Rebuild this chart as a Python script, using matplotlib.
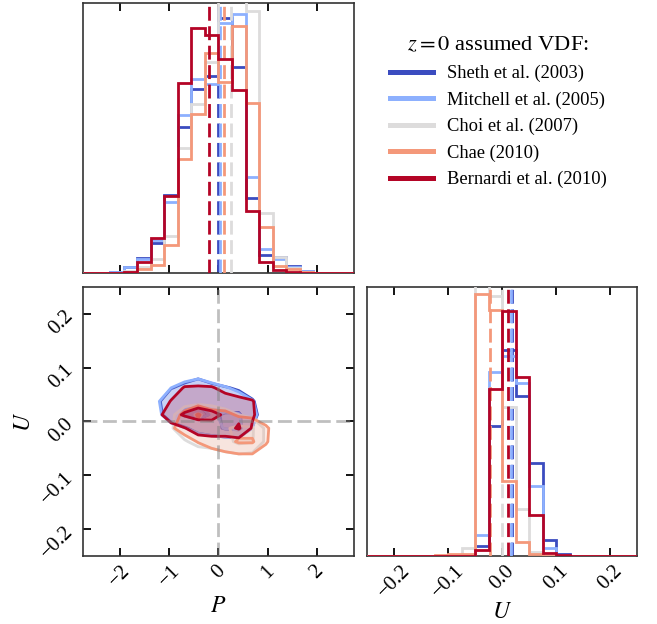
import numpy as np
import matplotlib
matplotlib.use("Agg")
import matplotlib.pyplot as plt
from matplotlib.lines import Line2D

plt.rcParams['font.family'] = ['Liberation Serif', 'DejaVu Serif']
plt.rcParams['mathtext.fontset'] = 'stix'
plt.rcParams['axes.unicode_minus'] = True

# --- data ---------------------------------------------------------------
names = ['Sheth et al. (2003)', 'Mitchell et al. (2005)', 'Choi et al. (2007)',
         'Chae (2010)', 'Bernardi et al. (2010)']

p_range = (-2.75, 2.75)
u_range = (-0.25, 0.25)
nbins = 20

# 1D histograms of P (20 bins over p_range)
hist_p = {
    'Sheth et al. (2003)':    [0, 0, 1, 6, 15, 30, 78, 146, 184, 197, 255, 206, 75, 18, 16, 7, 2, 0, 0, 0],
    'Mitchell et al. (2005)': [0, 0, 1, 6, 14, 33, 71, 158, 194, 189, 250, 259, 96, 24, 14, 6, 2, 0, 0, 0],
    'Choi et al. (2007)':     [0, 0, 0, 2, 6, 14, 37, 125, 169, 211, 280, 300, 262, 60, 16, 5, 1, 0, 0, 0],
    'Chae (2010)':            [0, 0, 0, 1, 4, 8, 28, 114, 159, 220, 191, 247, 170, 46, 7, 4, 1, 0, 0, 0],
    'Bernardi et al. (2010)': [0, 0, 0.3, 1.3, 11, 35, 77, 190, 245, 238, 214, 183, 62, 11, 3, 0.5, 0, 0, 0, 0],
}
# 1D histograms of U (20 bins over u_range)
hist_u = {
    'Sheth et al. (2003)':    [0, 0, 0, 0, 0, 0, 0, 0, 10, 130, 206, 160, 93, 16, 2, 0, 0, 0, 0, 0],
    'Mitchell et al. (2005)': [0, 0, 0, 0, 0, 0, 0, 0, 21, 184, 200, 173, 70, 8, 1, 0, 0, 0, 0, 0],
    'Choi et al. (2007)':     [0, 0, 0, 0, 0, 0, 0, 8, 275, 260, 149, 47, 4, 0, 0, 0, 0, 0, 0, 0],
    'Chae (2010)':            [0, 0, 0, 0, 0, 1, 2, 2, 262, 246, 75, 14, 2, 0, 0, 0, 0, 0, 0, 0],
    'Bernardi et al. (2010)': [0, 0, 0, 0, 0, 0, 0, 0, 6, 167, 245, 179, 41, 3, 1, 0, 0, 0, 0, 0],
}
p_median = [0.0, 0.04, 0.26, 0.11, -0.2]
u_median = [0.019, 0.016, 0.0, -0.022, 0.012]

# 2D density (normalised) on the central part of the 20x20 grid:
# rows = U bins 7..13 (bottom to top), cols = P bins 5..14
dens_2d = {
    'Sheth et al. (2003)': [
        [0, 0, 0, 0, 0, 0, 0, 0, 0, 0],
        [0, 0, 0.05, 0.05, 0.05, 0.05, 0.05, 0.02, 0, 0],
        [0, 0.1, 0.25, 0.45, 0.6, 0.8, 0.85, 0.28, 0.02, 0],
        [0.15, 0.55, 0.8, 0.9, 0.7, 0.78, 0.8, 0.45, 0.05, 0],
        [0.22, 0.6, 0.65, 0.7, 0.6, 0.55, 0.5, 0.35, 0, 0],
        [0, 0.28, 0.4, 0.5, 0.4, 0.33, 0.25, 0.05, 0, 0],
        [0, 0, 0.12, 0.2, 0.1, 0, 0, 0, 0, 0]],
    'Mitchell et al. (2005)': [
        [0, 0, 0, 0, 0, 0, 0, 0, 0, 0],
        [0, 0, 0.05, 0.05, 0.05, 0.05, 0.08, 0.03, 0, 0],
        [0, 0.12, 0.28, 0.45, 0.6, 0.78, 0.85, 0.3, 0.02, 0],
        [0.18, 0.58, 0.8, 0.88, 0.72, 0.8, 0.78, 0.42, 0.05, 0],
        [0.25, 0.62, 0.68, 0.7, 0.6, 0.55, 0.48, 0.33, 0, 0],
        [0.02, 0.3, 0.42, 0.5, 0.42, 0.33, 0.22, 0.03, 0, 0],
        [0, 0, 0.15, 0.2, 0.1, 0, 0, 0, 0, 0]],
    'Choi et al. (2007)': [
        [0, 0, 0, 0.05, 0.15, 0.2, 0.25, 0.2, 0.05, 0],
        [0, 0.05, 0.25, 0.45, 0.45, 0.6, 0.85, 0.78, 0.2, 0],
        [0, 0.25, 0.6, 0.65, 0.65, 0.7, 0.85, 0.8, 0.2, 0],
        [0, 0.2, 0.6, 0.8, 0.6, 0.45, 0.3, 0.15, 0, 0],
        [0, 0.02, 0.1, 0.15, 0.15, 0.1, 0.05, 0, 0, 0],
        [0, 0, 0, 0, 0, 0, 0, 0, 0, 0],
        [0, 0, 0, 0, 0, 0, 0, 0, 0, 0]],
    'Chae (2010)': [
        [0, 0, 0, 0.05, 0.1, 0.2, 0.25, 0.25, 0.1, 0],
        [0, 0, 0.15, 0.32, 0.5, 0.6, 0.8, 0.8, 0.35, 0],
        [0, 0.25, 0.45, 0.6, 0.6, 0.6, 0.6, 0.6, 0.38, 0],
        [0, 0.1, 0.4, 0.8, 0.45, 0.4, 0.25, 0.2, 0, 0],
        [0, 0, 0.05, 0.05, 0.05, 0.05, 0, 0, 0, 0],
        [0, 0, 0, 0, 0, 0, 0, 0, 0, 0],
        [0, 0, 0, 0, 0, 0, 0, 0, 0, 0]],
    'Bernardi et al. (2010)': [
        [0, 0, 0, 0, 0, 0, 0, 0, 0, 0],
        [0, 0, 0.05, 0.1, 0.1, 0.1, 0.1, 0.05, 0, 0],
        [0, 0.1, 0.28, 0.5, 0.6, 0.6, 0.8, 0.25, 0.02, 0],
        [0.15, 0.6, 0.8, 0.9, 0.85, 0.7, 0.65, 0.35, 0.05, 0],
        [0.05, 0.32, 0.5, 0.6, 0.5, 0.45, 0.4, 0.33, 0, 0],
        [0, 0.1, 0.33, 0.35, 0.33, 0.2, 0.1, 0, 0, 0],
        [0, 0, 0, 0, 0, 0, 0, 0, 0, 0]],
}
levels = [0.3, 0.75]

p_ticks = [-2, -1, 0, 1, 2]
u_ticks = [-0.2, -0.1, 0.0, 0.1, 0.2]

# -------------------------------------------------------------------------
colors = plt.cm.coolwarm(np.linspace(0, 1, len(names)))
p_edges = np.linspace(*p_range, nbins + 1)
u_edges = np.linspace(*u_range, nbins + 1)
p_cent = 0.5 * (p_edges[1:] + p_edges[:-1])
u_cent = 0.5 * (u_edges[1:] + u_edges[:-1])

fig = plt.figure(figsize=(6.57, 6.24), dpi=100)
ax_p = fig.add_axes([0.1263, 0.5625, 0.4125, 0.4327])
ax_2d = fig.add_axes([0.1263, 0.109, 0.4125, 0.4311])
ax_u = fig.add_axes([0.5586, 0.109, 0.411, 0.4311])

lw = 2.0
dash = (5, 2)

for i, name in enumerate(names):
    c = colors[i]
    ax_p.stairs(hist_p[name], p_edges, color=c, lw=lw, zorder=2 + i)
    ax_p.axvline(p_median[i], color=c, lw=lw, dashes=dash, zorder=2 + i)
    ax_u.stairs(hist_u[name], u_edges, color=c, lw=lw, zorder=2 + i)
    ax_u.axvline(u_median[i], color=c, lw=lw, dashes=dash, zorder=2 + i)

    z = np.zeros((nbins, nbins))
    z[7:14, 5:15] = np.array(dens_2d[name])
    ax_2d.contourf(p_cent, u_cent, z, levels=[levels[0], levels[1], 10],
                   colors=[(*c[:3], 0.2), (*c[:3], 0.38)], zorder=2 + i)
    ax_2d.contour(p_cent, u_cent, z, levels=levels, colors=[c], linewidths=lw,
                  zorder=2 + i)

ax_2d.axvline(0, color='grey', alpha=0.5, lw=lw, dashes=dash, zorder=20)
ax_2d.axhline(0, color='grey', alpha=0.5, lw=lw, dashes=dash, zorder=20)

ax_p.set_xlim(*p_range)
ax_p.set_ylim(0, 270)
ax_u.set_xlim(*u_range)
ax_u.set_ylim(0, 269)
ax_2d.set_xlim(*p_range)
ax_2d.set_ylim(*u_range)

for ax in (ax_p, ax_u, ax_2d):
    for s in ax.spines.values():
        s.set_linewidth(1.2)
        s.set_color('#333333')
    ax.tick_params(direction='in', length=6, width=1.3, top=True, right=True,
                   labelsize=15, pad=4)

ax_p.set_xticks(p_ticks)
ax_p.set_xticklabels([])
ax_p.set_yticks([])

ax_2d.set_xticks(p_ticks)
ax_2d.set_yticks(u_ticks)
ax_u.set_xticks(u_ticks)
ax_u.set_yticks([])

ax_2d.set_xticklabels([f'{t:d}'.replace('-', '\u2212') for t in p_ticks], rotation=45)
ax_2d.set_yticklabels([f'{t:.1f}'.replace('-', '\u2212') for t in u_ticks], rotation=45)
ax_u.set_xticklabels([f'{t:.1f}'.replace('-', '\u2212') for t in u_ticks], rotation=45)

ax_2d.set_xlabel('$P$', fontsize=17, labelpad=4)
ax_2d.set_ylabel('$U$', fontsize=17, labelpad=2)
ax_u.set_xlabel('$U$', fontsize=17, labelpad=0)

handles = [Line2D([], [], color=colors[i], lw=3.6) for i in range(len(names))]
leg = fig.legend(handles, names, loc='upper left', bbox_to_anchor=(0.594, 0.942),
                 frameon=False, fontsize=13.3, title='$z = 0$ assumed VDF:',
                 title_fontsize=16.2, handlelength=2.3, handletextpad=0.75,
                 labelspacing=0.5, borderpad=0, borderaxespad=0)

fig.savefig('out.png', dpi=100)
